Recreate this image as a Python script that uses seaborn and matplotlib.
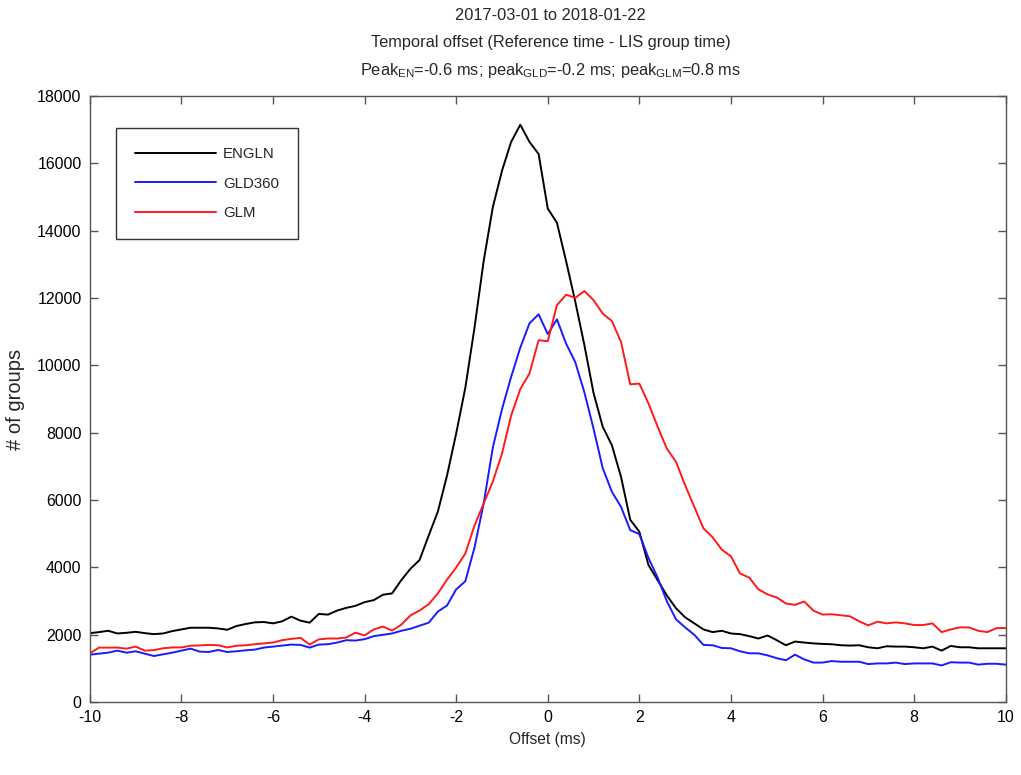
import numpy as np
import pandas as pd
import matplotlib
matplotlib.use('Agg')
import matplotlib.pyplot as plt
import seaborn as sns


# Données (pas de 0.2 ms, de -10 à 10 ms)
offset_ms = np.round(np.arange(-10, 10.0001, 0.2), 1)

engln = [
    2050, 2080, 2120, 2040, 2060, 2090, 2050, 2020, 2040, 2110,
    2160, 2210, 2210, 2210, 2190, 2150, 2260, 2320, 2370, 2380,
    2340, 2400, 2540, 2420, 2360, 2620, 2600, 2720, 2800, 2860,
    2970, 3030, 3190, 3230, 3620, 3960, 4220, 4950, 5660, 6730,
    7980, 9340, 11120, 13100, 14700, 15780, 16640, 17150, 16640, 16280,
    14660, 14240, 13100, 11900, 10600, 9180, 8180, 7630, 6690, 5420,
    5060, 4070, 3620, 3170, 2790, 2520, 2340, 2160, 2080, 2120,
    2040, 2020, 1960, 1890, 1980, 1840, 1690, 1800, 1770, 1745,
    1730, 1720, 1690, 1680, 1690, 1630, 1600, 1660, 1650, 1650,
    1630, 1600, 1650, 1530, 1670, 1630, 1630, 1600, 1600, 1600,
    1600,
]

gld360 = [
    1410, 1440, 1470, 1530, 1470, 1510, 1440, 1370, 1420, 1470,
    1530, 1590, 1500, 1490, 1550, 1490, 1510, 1540, 1560, 1620,
    1650, 1680, 1710, 1700, 1620, 1710, 1720, 1770, 1840, 1830,
    1870, 1960, 2000, 2040, 2120, 2180, 2270, 2360, 2690, 2870,
    3350, 3590, 4590, 5900, 7560, 8700, 9660, 10530, 11250, 11520,
    10930, 11370, 10650, 10100, 9200, 8120, 6950, 6250, 5800, 5110,
    4990, 4280, 3700, 3000, 2460, 2220, 2000, 1700, 1690, 1610,
    1600, 1510, 1450, 1450, 1390, 1305, 1245, 1410, 1270, 1175,
    1175, 1220, 1200, 1200, 1200, 1130, 1150, 1150, 1175, 1130,
    1150, 1150, 1150, 1090, 1185, 1175, 1175, 1115, 1140, 1140,
    1115,
]

glm = [
    1450, 1620, 1620, 1620, 1590, 1650, 1530, 1545, 1600, 1625,
    1625, 1675, 1685, 1700, 1690, 1625, 1675, 1690, 1720, 1745,
    1770, 1840, 1880, 1910, 1710, 1865, 1890, 1890, 1920, 2065,
    1980, 2160, 2245, 2125, 2300, 2575, 2720, 2910, 3230, 3640,
    4000, 4415, 5245, 5900, 6550, 7380, 8510, 9300, 9760, 10750,
    10720, 11790, 12100, 12010, 12210, 11940, 11540, 11320, 10700, 9440,
    9460, 8870, 8180, 7530, 7140, 6440, 5800, 5160, 4900, 4530,
    4330, 3820, 3700, 3350, 3200, 3110, 2930, 2890, 2990, 2720,
    2600, 2610, 2580, 2550, 2400, 2280, 2390, 2340, 2370, 2340,
    2290, 2290, 2340, 2080, 2160, 2220, 2220, 2120, 2080, 2200,
    2200,
]

series_names = ['ENGLN', 'GLD360', 'GLM']
series_colors = {'ENGLN': '#000000', 'GLD360': '#1a1aff', 'GLM': '#ff1a1a'}

title_lines = [
    '2017-03-01 to 2018-01-22',
    'Temporal offset (Reference time - LIS group time)',
    r'Peak$_{\mathrm{EN}}$=-0.6 ms; peak$_{\mathrm{GLD}}$=-0.2 ms; peak$_{\mathrm{GLM}}$=0.8 ms',
]


df = pd.DataFrame({
    'offset': np.concatenate([offset_ms] * 3),
    'groups': np.concatenate([engln, gld360, glm]),
    'source': np.repeat(series_names, len(offset_ms)),
})

sns.set_style('ticks')
plt.rcParams['font.family'] = ['Liberation Sans', 'DejaVu Sans']
plt.rcParams['axes.unicode_minus'] = False
plt.rcParams['mathtext.fontset'] = 'custom'
plt.rcParams['mathtext.rm'] = 'Liberation Sans'
plt.rcParams['mathtext.it'] = 'Liberation Sans'

fig = plt.figure(figsize=(10.21, 7.75), dpi=100)
ax = fig.add_axes([0.088, 0.094, 0.897, 0.782])

sns.lineplot(
    data=df, x='offset', y='groups', hue='source',
    hue_order=series_names, palette=series_colors,
    linewidth=1.4, ax=ax, estimator=None, sort=False,
)

ax.set_xlim(-10, 10)
ax.set_ylim(0, 18000)
ax.set_xticks(np.arange(-10, 11, 2))
ax.set_yticks(np.arange(0, 18001, 2000))
ax.set_xlabel('Offset (ms)', fontsize=11.2, labelpad=5)
ax.set_ylabel('# of groups', fontsize=14.5)
ax.yaxis.set_label_coords(-0.071, 0.5)

grey = '#555555'
for side in ['top', 'right', 'bottom', 'left']:
    ax.spines[side].set_visible(True)
    ax.spines[side].set_color(grey)
    ax.spines[side].set_linewidth(1.0)
ax.tick_params(direction='in', length=6, width=1.0, color=grey,
               top=True, right=True, labelsize=11.4, labelcolor='black', pad=6)

leg = ax.legend(
    loc='upper left', bbox_to_anchor=(0.029, 0.947), fontsize=10.8,
    handlelength=5.4, handletextpad=0.45, labelspacing=1.05,
    frameon=True, fancybox=False, borderpad=1.25, borderaxespad=0,
)
leg.get_frame().set_edgecolor('#333333')
leg.get_frame().set_linewidth(1.0)
leg.get_frame().set_alpha(1)

for i, line in enumerate(title_lines):
    fig.text(0.539, 1 - (15 + 28 * i) / 775, line, ha='center', va='center', fontsize=11.8)

fig.savefig('out.png', dpi=100)
